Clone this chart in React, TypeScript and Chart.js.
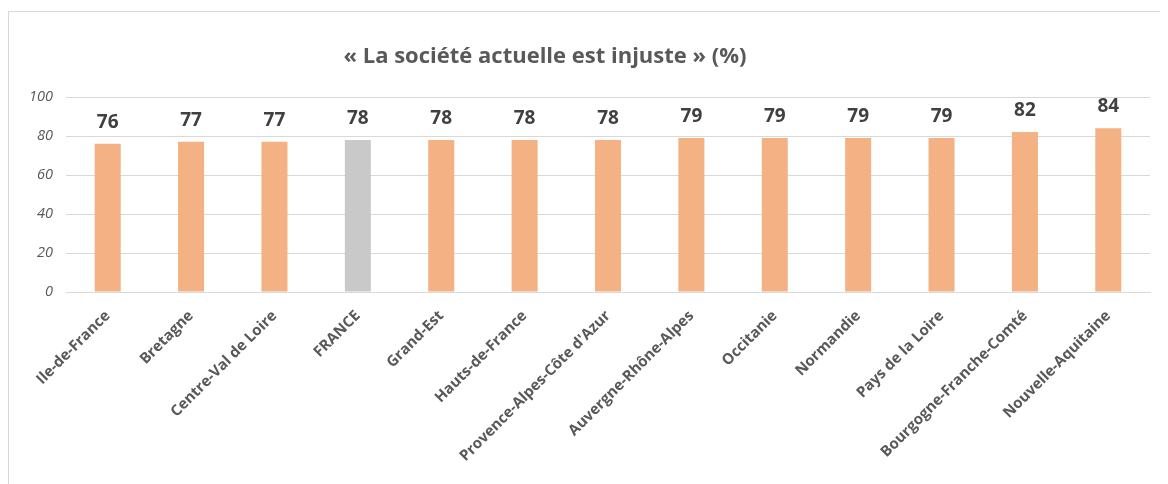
import React, { useEffect, useRef } from "react";
import { Chart, registerables } from "chart.js";

Chart.register(...registerables);

const regions = [
  "Ile-de-France",
  "Bretagne",
  "Centre-Val de Loire",
  "FRANCE",
  "Grand-Est",
  "Hauts-de-France",
  "Provence-Alpes-Côte d'Azur",
  "Auvergne-Rhône-Alpes",
  "Occitanie",
  "Normandie",
  "Pays de la Loire",
  "Bourgogne-Franche-Comté",
  "Nouvelle-Aquitaine",
];
const values = [76, 77, 77, 78, 78, 78, 78, 79, 79, 79, 79, 82, 84];
const yTicks = [0, 20, 40, 60, 80, 100];
const titleText = "« La société actuelle est injuste » (%)";

const ORANGE = "#F4B183";
const GREY = "#C9C9C9";
const FONT = "'Open Sans', 'Noto Sans', sans-serif";

const titlePlugin = {
  id: "customTitle",
  afterDraw(chart: any) {
    const ctx = chart.ctx;
    ctx.save();
    ctx.font = `bold 22px ${FONT}`;
    ctx.fillStyle = "#595959";
    ctx.textAlign = "center";
    ctx.textBaseline = "middle";
    ctx.fillText(titleText, 536, 45);
    ctx.restore();
  },
};

const labelPlugin = {
  id: "valueLabels",
  afterDatasetsDraw(chart: any) {
    const ctx = chart.ctx;
    const meta = chart.getDatasetMeta(0);
    ctx.save();
    ctx.font = `bold 19px ${FONT}`;
    ctx.fillStyle = "#404040";
    ctx.textAlign = "center";
    ctx.textBaseline = "bottom";
    meta.data.forEach((bar: any, i: number) => {
      ctx.fillText(String(values[i]), bar.x, bar.y - 12);
    });
    ctx.restore();
  },
};

export default function App() {
  const ref = useRef<HTMLCanvasElement>(null);
  useEffect(() => {
    if (!ref.current) return;
    const chart = new Chart(ref.current, {
      type: "bar",
      data: {
        labels: regions,
        datasets: [
          {
            data: values,
            backgroundColor: regions.map((r) => (r === "FRANCE" ? GREY : ORANGE)),
            barPercentage: 0.312,
            categoryPercentage: 1,
          },
        ],
      },
      options: {
        animation: false,
        responsive: false,
        maintainAspectRatio: false,
        layout: { padding: { left: 0, right: 18, top: 85, bottom: 0 } },
        plugins: {
          legend: { display: false },
          tooltip: { enabled: false },
          title: { display: false },
        },
        scales: {
          x: {
            grid: { display: false, drawTicks: false },
            border: { display: true, color: "#D9D9D9", width: 1 },
            ticks: {
              autoSkip: false,
              minRotation: 45,
              maxRotation: 45,
              padding: 15,
              color: "#595959",
              font: { family: FONT, size: 15, weight: "bold" },
            },
            afterFit(scale: any) {
              scale.height = 192;
            },
          },
          y: {
            min: 0,
            max: 100,
            afterBuildTicks(scale: any) {
              scale.ticks = yTicks.map((v) => ({ value: v }));
            },
            grid: { color: "#D9D9D9", lineWidth: 1, drawTicks: false },
            border: { display: false },
            ticks: {
              padding: 13,
              color: "#595959",
              font: { family: FONT, size: 14.5, style: "italic" },
            },
            afterFit(scale: any) {
              scale.width = 57;
            },
          },
        },
      },
      plugins: [titlePlugin, labelPlugin],
    });
    return () => chart.destroy();
  }, []);

  return (
    <div
      style={{
        marginTop: 3,
        width: 1160,
        height: 473,
        borderLeft: "1.5px solid #D9D9D9",
        borderTop: "1.5px solid #D9D9D9",
        overflow: "hidden",
      }}
    >
      <canvas ref={ref} width={1159} height={472} style={{ display: "block" }} />
    </div>
  );
}
